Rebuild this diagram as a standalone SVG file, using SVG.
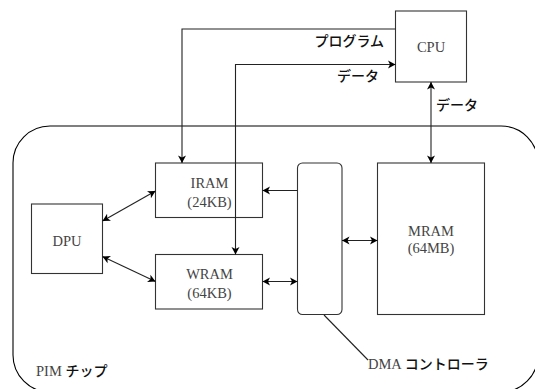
<svg xmlns="http://www.w3.org/2000/svg" width="535" height="389" viewBox="0 0 535 389">
<defs>
<marker id="ah" markerUnits="userSpaceOnUse" viewBox="-8 -5 9 10" refX="0" refY="0" markerWidth="9" markerHeight="10" orient="auto-start-reverse">
<path d="M-7.5,-4 L0,0 L-7.5,4 L-5.5,0 Z" fill="#000"/>
</marker>
<style>
.box{fill:none;stroke:#333;stroke-width:1.1}
.chip{fill:none;stroke:#000;stroke-width:1.1}
.ln{fill:none;stroke:#222;stroke-width:1.1}
.lt{font-family:'Liberation Serif','DejaVu Serif',serif;font-size:14.5px;fill:#444}
.jp{font-family:'Noto Sans CJK JP','Noto Sans',sans-serif;font-size:14px;font-weight:500;fill:#111}
</style>
</defs>
<rect class="chip" x="13" y="126" width="525" height="266" rx="37" ry="37"/>
<g id="cpu">
<rect class="box" x="395.5" y="11" width="71" height="71"/>
<text class="lt" x="431" y="52" text-anchor="middle">CPU</text>
</g>
<g id="iram">
<rect class="box" x="155.5" y="163" width="107" height="54.5"/>
<text class="lt" x="209.5" y="188" text-anchor="middle">IRAM</text>
<text class="lt" x="209.5" y="206.5" text-anchor="middle">(24KB)</text>
</g>
<g id="wram">
<rect class="box" x="155.5" y="254.5" width="107" height="54.5"/>
<text class="lt" x="209.5" y="279" text-anchor="middle">WRAM</text>
<text class="lt" x="209.5" y="297.5" text-anchor="middle">(64KB)</text>
</g>
<g id="dpu">
<rect class="box" x="31.5" y="204" width="71" height="69.5"/>
<text class="lt" x="67" y="246" text-anchor="middle">DPU</text>
</g>
<g id="dma">
<rect class="box" x="297.5" y="163" width="44.5" height="151.5" rx="5" ry="5"/>
</g>
<g id="mram">
<rect class="box" x="377.5" y="163" width="107" height="151.5"/>
<text class="lt" x="431" y="236" text-anchor="middle">MRAM</text>
<text class="lt" x="431" y="252.5" text-anchor="middle">(64MB)</text>
</g>
<g id="connectors">
<path class="ln" d="M395.5,29 H182 V163" marker-end="url(#ah)"/>
<path class="ln" d="M235.5,254.5 V64.5 H395.5" marker-start="url(#ah)" marker-end="url(#ah)"/>
<path class="ln" d="M431,82 V163" marker-start="url(#ah)" marker-end="url(#ah)"/>
<path class="ln" d="M102.5,221 L155.5,191" marker-start="url(#ah)" marker-end="url(#ah)"/>
<path class="ln" d="M102.5,256.5 L155.5,281.5" marker-start="url(#ah)" marker-end="url(#ah)"/>
<path class="ln" d="M297.5,190.5 H262.5" marker-end="url(#ah)"/>
<path class="ln" d="M262.5,281.5 H297.5" marker-start="url(#ah)" marker-end="url(#ah)"/>
<path class="ln" d="M342,240.5 H377.5" marker-start="url(#ah)" marker-end="url(#ah)"/>
<path class="ln" d="M324,315 L368,360"/>
</g>
<text class="jp" x="384" y="46" text-anchor="end">プログラム</text>
<text class="jp" x="379" y="81" text-anchor="end">データ</text>
<text class="jp" x="436" y="110">データ</text>
<text x="368" y="369"><tspan class="lt">DMA </tspan><tspan class="jp">コントローラ</tspan></text>
<text x="36" y="376"><tspan class="lt">PIM </tspan><tspan class="jp">チップ</tspan></text>
</svg>
